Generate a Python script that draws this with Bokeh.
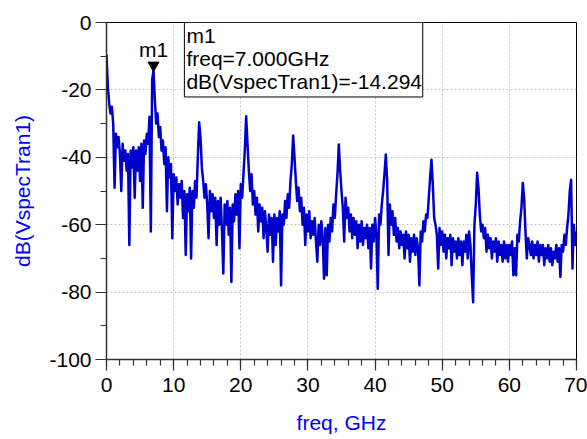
import numpy as np
from bokeh.plotting import figure
from bokeh.models import Range1d, SingleIntervalTicker, BoxAnnotation, Label, PrintfTickFormatter
from bokeh.embed import file_html
from bokeh.resources import INLINE

# ---- data (dB values on a 0.2 GHz grid) ----
seg_00_07 = [-9.5, -19, -24, -27, -25, -30, -49, -33, -37, -34, -39, -50, -36, -41, -38, -44, -39, -66,
             -38, -43, -37, -52, -38, -44, -37, -47, -36, -55, -35, -39, -33, -36, -28, -62, -17]
seg_07_14 = [-14.294, -23, -30, -27, -34, -31, -38, -35, -42, -37, -56, -40, -46, -42, -64, -45, -50, -46,
             -54, -48, -52, -47, -58, -50, -69, -51, -56, -49, -70, -50, -55, -47, -52, -40, -29.6]
seg_14_21 = [-34, -43, -47, -52, -48, -54, -64, -50, -56, -51, -58, -52, -66, -53, -60, -52, -62, -74.5,
             -54, -60, -53, -63, -55, -77, -54, -59, -51, -57, -50, -67, -48, -52, -45, -38, -27.8]
seg_21_28 = [-36, -44, -50, -45, -54, -50, -57, -52, -62, -54, -59, -55, -64, -56, -61, -68, -57, -63,
             -58, -71, -57, -66, -58, -62, -56, -78, -57, -60, -53, -58, -51, -55, -47, -42, -33.5]
seg_28_35 = [-40, -47, -53, -49, -56, -52, -60, -55, -66, -57, -62, -56, -64, -59, -63, -58, -65, -71,
             -60, -66, -59, -64, -76, -61, -75, -60, -65, -58, -62, -54, -58, -51, -45, -36.2, -44]
seg_35_42 = [-50, -55, -65, -52, -58, -55, -62, -57, -64, -58, -63, -59, -67, -60, -65, -59, -66, -61,
             -64, -60, -67, -61, -73, -60, -65, -58, -63, -79, -57, -60, -54, -50, -45, -39.2, -47]
seg_42_49 = [-69, -54, -60, -56, -63, -58, -65, -61, -67, -62, -66, -63, -70, -62, -67, -63, -71, -64,
             -68, -63, -69, -64, -67, -78, -62, -65, -59, -62, -57, -58, -52, -46, -40.7, -48, -58]
seg_49_56 = [-60, -63, -73, -61, -66, -62, -68, -63, -70, -64, -67, -63, -72, -64, -68, -65, -70, -64,
             -69, -65, -72, -65, -68, -63, -70, -62, -66, -75, -83, -60, -54, -44.6, -49, -57, -62]
seg_56_63 = [-60, -64, -61, -68, -63, -67, -64, -70, -65, -68, -64, -71, -65, -69, -66, -71, -65, -70,
             -66, -71, -66, -69, -65, -75, -67, -75, -63, -65, -59, -55, -47.6, -52, -62, -70, -64]
seg_63_70 = [-66, -69, -65, -70, -66, -69, -65, -71, -66, -69, -66, -72, -67, -70, -66, -71, -67, -72,
             -68, -70, -66, -71, -67, -75.5, -66, -68, -63, -66, -61, -57, -50, -46.7, -73, -60, -66, -62]

db_vspec = (seg_00_07 + seg_07_14 + seg_14_21 + seg_21_28 + seg_28_35 +
            seg_35_42 + seg_42_49 + seg_49_56 + seg_56_63 + seg_63_70)
freq_step_ghz = 0.2
freq_ghz = [round(i * freq_step_ghz, 1) for i in range(len(db_vspec))]

marker_name = "m1"
marker_freq = 7.0
marker_db = -14.294
marker_lines = ["m1", "freq=7.000GHz", "dB(VspecTran1)=-14.294"]

x_label = "freq, GHz"
y_label = "dB(VspecTran1)"

FONT = "Liberation Sans"
FS = "21px"

p = figure(width=587, height=439, x_range=Range1d(0, 70), y_range=Range1d(-100, 0),
           output_backend="svg", toolbar_location=None,
           min_border_left=106, min_border_right=11, min_border_top=22, min_border_bottom=80,
           x_axis_label=x_label, y_axis_label=y_label)
p.background_fill_color = "white"
p.border_fill_color = "white"
p.outline_line_color = "black"
p.outline_line_width = 1

p.xaxis.ticker = SingleIntervalTicker(interval=10, num_minor_ticks=5)
p.yaxis.ticker = SingleIntervalTicker(interval=20, num_minor_ticks=2)
p.xaxis.formatter = PrintfTickFormatter(format="%d")
p.yaxis.formatter = PrintfTickFormatter(format="%d")

for g in (p.xgrid[0], p.ygrid[0]):
    g.grid_line_color = "#c8c8c8"
    g.grid_line_dash = "2 2"
    g.grid_line_width = 1

for ax in (p.xaxis[0], p.yaxis[0]):
    ax.axis_line_color = "#333333"
    ax.axis_line_width = 1.5
    ax.major_tick_line_color = "#333333"
    ax.minor_tick_line_color = "#333333"
    ax.major_tick_line_width = 1.2
    ax.minor_tick_line_width = 1.2
    ax.major_tick_out = 11
    ax.major_tick_in = 0
    ax.minor_tick_out = 6
    ax.minor_tick_in = 0
    ax.major_label_text_font = FONT
    ax.major_label_text_font_size = FS
    ax.major_label_text_color = "black"
    ax.axis_label_text_font = FONT
    ax.axis_label_text_font_size = FS
    ax.axis_label_text_font_style = "normal"
    ax.axis_label_text_color = "#0000FF"

p.xaxis[0].major_label_standoff = 7
p.xaxis[0].axis_label_standoff = 16
p.yaxis[0].major_label_standoff = 4
p.yaxis[0].axis_label_standoff = 12

p.line(freq_ghz, db_vspec, line_color="#0000CC", line_width=2.5, line_join="round")

# marker triangle with apex on the data point
p.scatter([marker_freq], [marker_db + 1.6], marker="inverted_triangle", size=11,
          fill_color="black", line_color="black")
p.add_layout(Label(x=marker_freq, y=marker_db, text=marker_name, text_align="center",
                   text_baseline="alphabetic", y_offset=21, text_font=FONT,
                   text_font_size=FS, text_color="black"))

# marker readout box
box = BoxAnnotation(left=11.6, right=47.1, top=0, bottom=-22.1, fill_color="white", fill_alpha=1,
                    line_color="black", line_width=1, line_alpha=1)
p.add_layout(box)
for i, t in enumerate(marker_lines):
    p.add_layout(Label(x=11.6, y=0, text=t, x_offset=2, y_offset=-12.5 - 23 * i,
                       text_baseline="alphabetic", text_align="left", text_font=FONT,
                       text_font_size=FS, text_color="black"))

open("out.html", "w").write(file_html(p, INLINE))
